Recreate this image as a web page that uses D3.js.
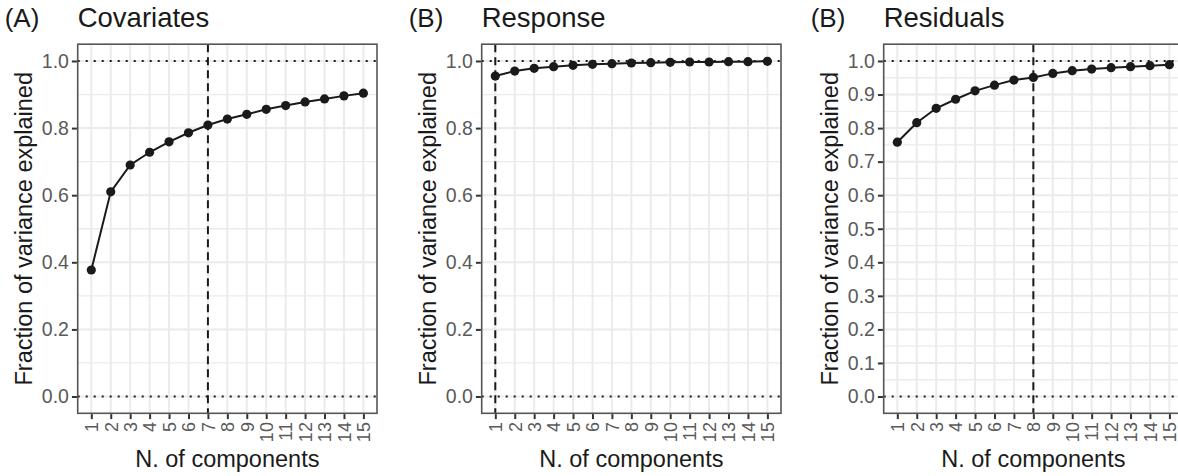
<!DOCTYPE html>
<html>
<head>
<meta charset="utf-8">
<script src="https://cdn.jsdelivr.net/npm/d3@7"></script>
<style>
  body { margin: 0; background: #fff; }
  svg { display: block; font-family: "Liberation Sans", Arial, Helvetica, sans-serif; }
</style>
</head>
<body>
<div id="chart-area"><svg></svg></div>
<script>
const components = [1, 2, 3, 4, 5, 6, 7, 8, 9, 10, 11, 12, 13, 14, 15];
const covariates = [0.377, 0.610, 0.690, 0.728, 0.759, 0.786, 0.809, 0.827, 0.841, 0.856, 0.867, 0.878, 0.887, 0.896, 0.904];
const response = [0.955, 0.970, 0.978, 0.983, 0.987, 0.990, 0.992, 0.994, 0.995, 0.996, 0.997, 0.997, 0.998, 0.998, 0.999];
const residuals = [0.758, 0.816, 0.859, 0.886, 0.911, 0.928, 0.943, 0.951, 0.963, 0.971, 0.976, 0.980, 0.983, 0.986, 0.989];

const tags = ["(A)", "(B)", "(B)"];
const titles = ["Covariates", "Response", "Residuals"];
const cutoffs = [7, 1, 8];
const yTicksCoarse = [0, 0.2, 0.4, 0.6, 0.8, 1.0];
const yMinorCoarse = [0.1, 0.3, 0.5, 0.7, 0.9];
const yTicksFine = [0, 0.1, 0.2, 0.3, 0.4, 0.5, 0.6, 0.7, 0.8, 0.9, 1.0];
const yMinorFine = [0.05, 0.15, 0.25, 0.35, 0.45, 0.55, 0.65, 0.75, 0.85, 0.95];

const chartSize = { width: 1178, height: 476 };
const panelLefts = [77.7, 481.7, 883.7];
const panelWidth = 299.3;
const panelTop = 44.2, panelBottom = 413.3;

const svg = d3.select("#chart-area svg")
    .attr("width", chartSize.width)
    .attr("height", chartSize.height);

const panels = [
    { values: covariates, yTicks: yTicksCoarse, yMinor: yMinorCoarse },
    { values: response, yTicks: yTicksCoarse, yMinor: yMinorCoarse },
    { values: residuals, yTicks: yTicksFine, yMinor: yMinorFine }
];

const drawPanel = (p, i) => {
    const left = panelLefts[i];
    const x = d3.scaleLinear().domain([0.3, 15.7]).range([left, left + panelWidth]);
    const y = d3.scaleLinear().domain([-0.05, 1.05]).range([panelBottom, panelTop]);
    const g = svg.append("g").attr("class", "panel");

    // grid
    g.selectAll(".minor").data(p.yMinor).enter().append("line")
        .attr("x1", x.range()[0]).attr("x2", x.range()[1])
        .attr("y1", d => y(d)).attr("y2", d => y(d))
        .attr("stroke", "#ebebeb").attr("stroke-width", 1.3);
    g.selectAll(".hmajor").data(p.yTicks).enter().append("line")
        .attr("x1", x.range()[0]).attr("x2", x.range()[1])
        .attr("y1", d => y(d)).attr("y2", d => y(d))
        .attr("stroke", "#ebebeb").attr("stroke-width", 2);
    g.selectAll(".vmajor").data(components).enter().append("line")
        .attr("y1", panelTop).attr("y2", panelBottom)
        .attr("x1", d => x(d)).attr("x2", d => x(d))
        .attr("stroke", "#ebebeb").attr("stroke-width", 2);

    // reference lines
    g.selectAll(".hline").data([0, 1]).enter().append("line")
        .attr("x1", x.range()[0]).attr("x2", x.range()[1])
        .attr("y1", d => y(d)).attr("y2", d => y(d))
        .attr("stroke", "#1a1a1a").attr("stroke-width", 2)
        .attr("stroke-dasharray", "2,6");
    g.append("line")
        .attr("x1", x(cutoffs[i])).attr("x2", x(cutoffs[i]))
        .attr("y1", panelTop).attr("y2", panelBottom)
        .attr("stroke", "#1a1a1a").attr("stroke-width", 2)
        .attr("stroke-dasharray", "8,5");

    // series
    const line = d3.line()
        .x((d, j) => x(components[j]))
        .y(d => y(d));
    g.append("path")
        .attr("d", line(p.values))
        .attr("fill", "none").attr("stroke", "#1a1a1a").attr("stroke-width", 2);
    g.selectAll("circle").data(p.values).enter().append("circle")
        .attr("cx", (d, j) => x(components[j]))
        .attr("cy", d => y(d))
        .attr("r", 4.6)
        .attr("fill", "#1a1a1a");

    // border
    g.append("rect")
        .attr("x", left).attr("y", panelTop)
        .attr("width", panelWidth).attr("height", panelBottom - panelTop)
        .attr("fill", "none").attr("stroke", "#555").attr("stroke-width", 1.6);

    // axes
    const yAxis = d3.axisLeft(y).tickValues(p.yTicks).tickSize(5).tickPadding(3)
        .tickFormat(d3.format(".1f"));
    const ya = g.append("g").attr("transform", `translate(${left - 0.8},0)`).call(yAxis);
    ya.select(".domain").remove();
    ya.selectAll(".tick line").attr("stroke", "#333").attr("stroke-width", 2);
    ya.selectAll(".tick text").attr("fill", "#5a5a5a").attr("font-size", 19.5);

    const xAxis = d3.axisBottom(x).tickValues(components).tickSize(5).tickPadding(3);
    const xa = g.append("g").attr("transform", `translate(0,${panelBottom + 0.8})`).call(xAxis);
    xa.select(".domain").remove();
    xa.selectAll(".tick line").attr("stroke", "#333").attr("stroke-width", 2);
    xa.selectAll(".tick text")
        .attr("fill", "#5a5a5a").attr("font-size", 18)
        .attr("transform", "rotate(-90)")
        .attr("text-anchor", "end")
        .attr("x", -8).attr("y", 0).attr("dy", "0.35em");

    // axis titles
    g.append("text")
        .attr("x", left + panelWidth / 2).attr("y", 467)
        .attr("text-anchor", "middle").attr("font-size", 23.5).attr("fill", "#1a1a1a")
        .text("N. of components");
    g.append("text")
        .attr("transform", `translate(${left - 46},${(panelTop + panelBottom) / 2}) rotate(-90)`)
        .attr("text-anchor", "middle").attr("font-size", 23.5).attr("fill", "#1a1a1a")
        .text("Fraction of variance explained");

    // titles
    g.append("text")
        .attr("x", left - 73).attr("y", 27)
        .attr("font-size", 26).attr("fill", "#1a1a1a")
        .text(tags[i]);
    g.append("text")
        .attr("x", left).attr("y", 27)
        .attr("font-size", 27.5).attr("fill", "#1a1a1a")
        .text(titles[i]);
};

panels.forEach(drawPanel);
</script>
</body>
</html>
